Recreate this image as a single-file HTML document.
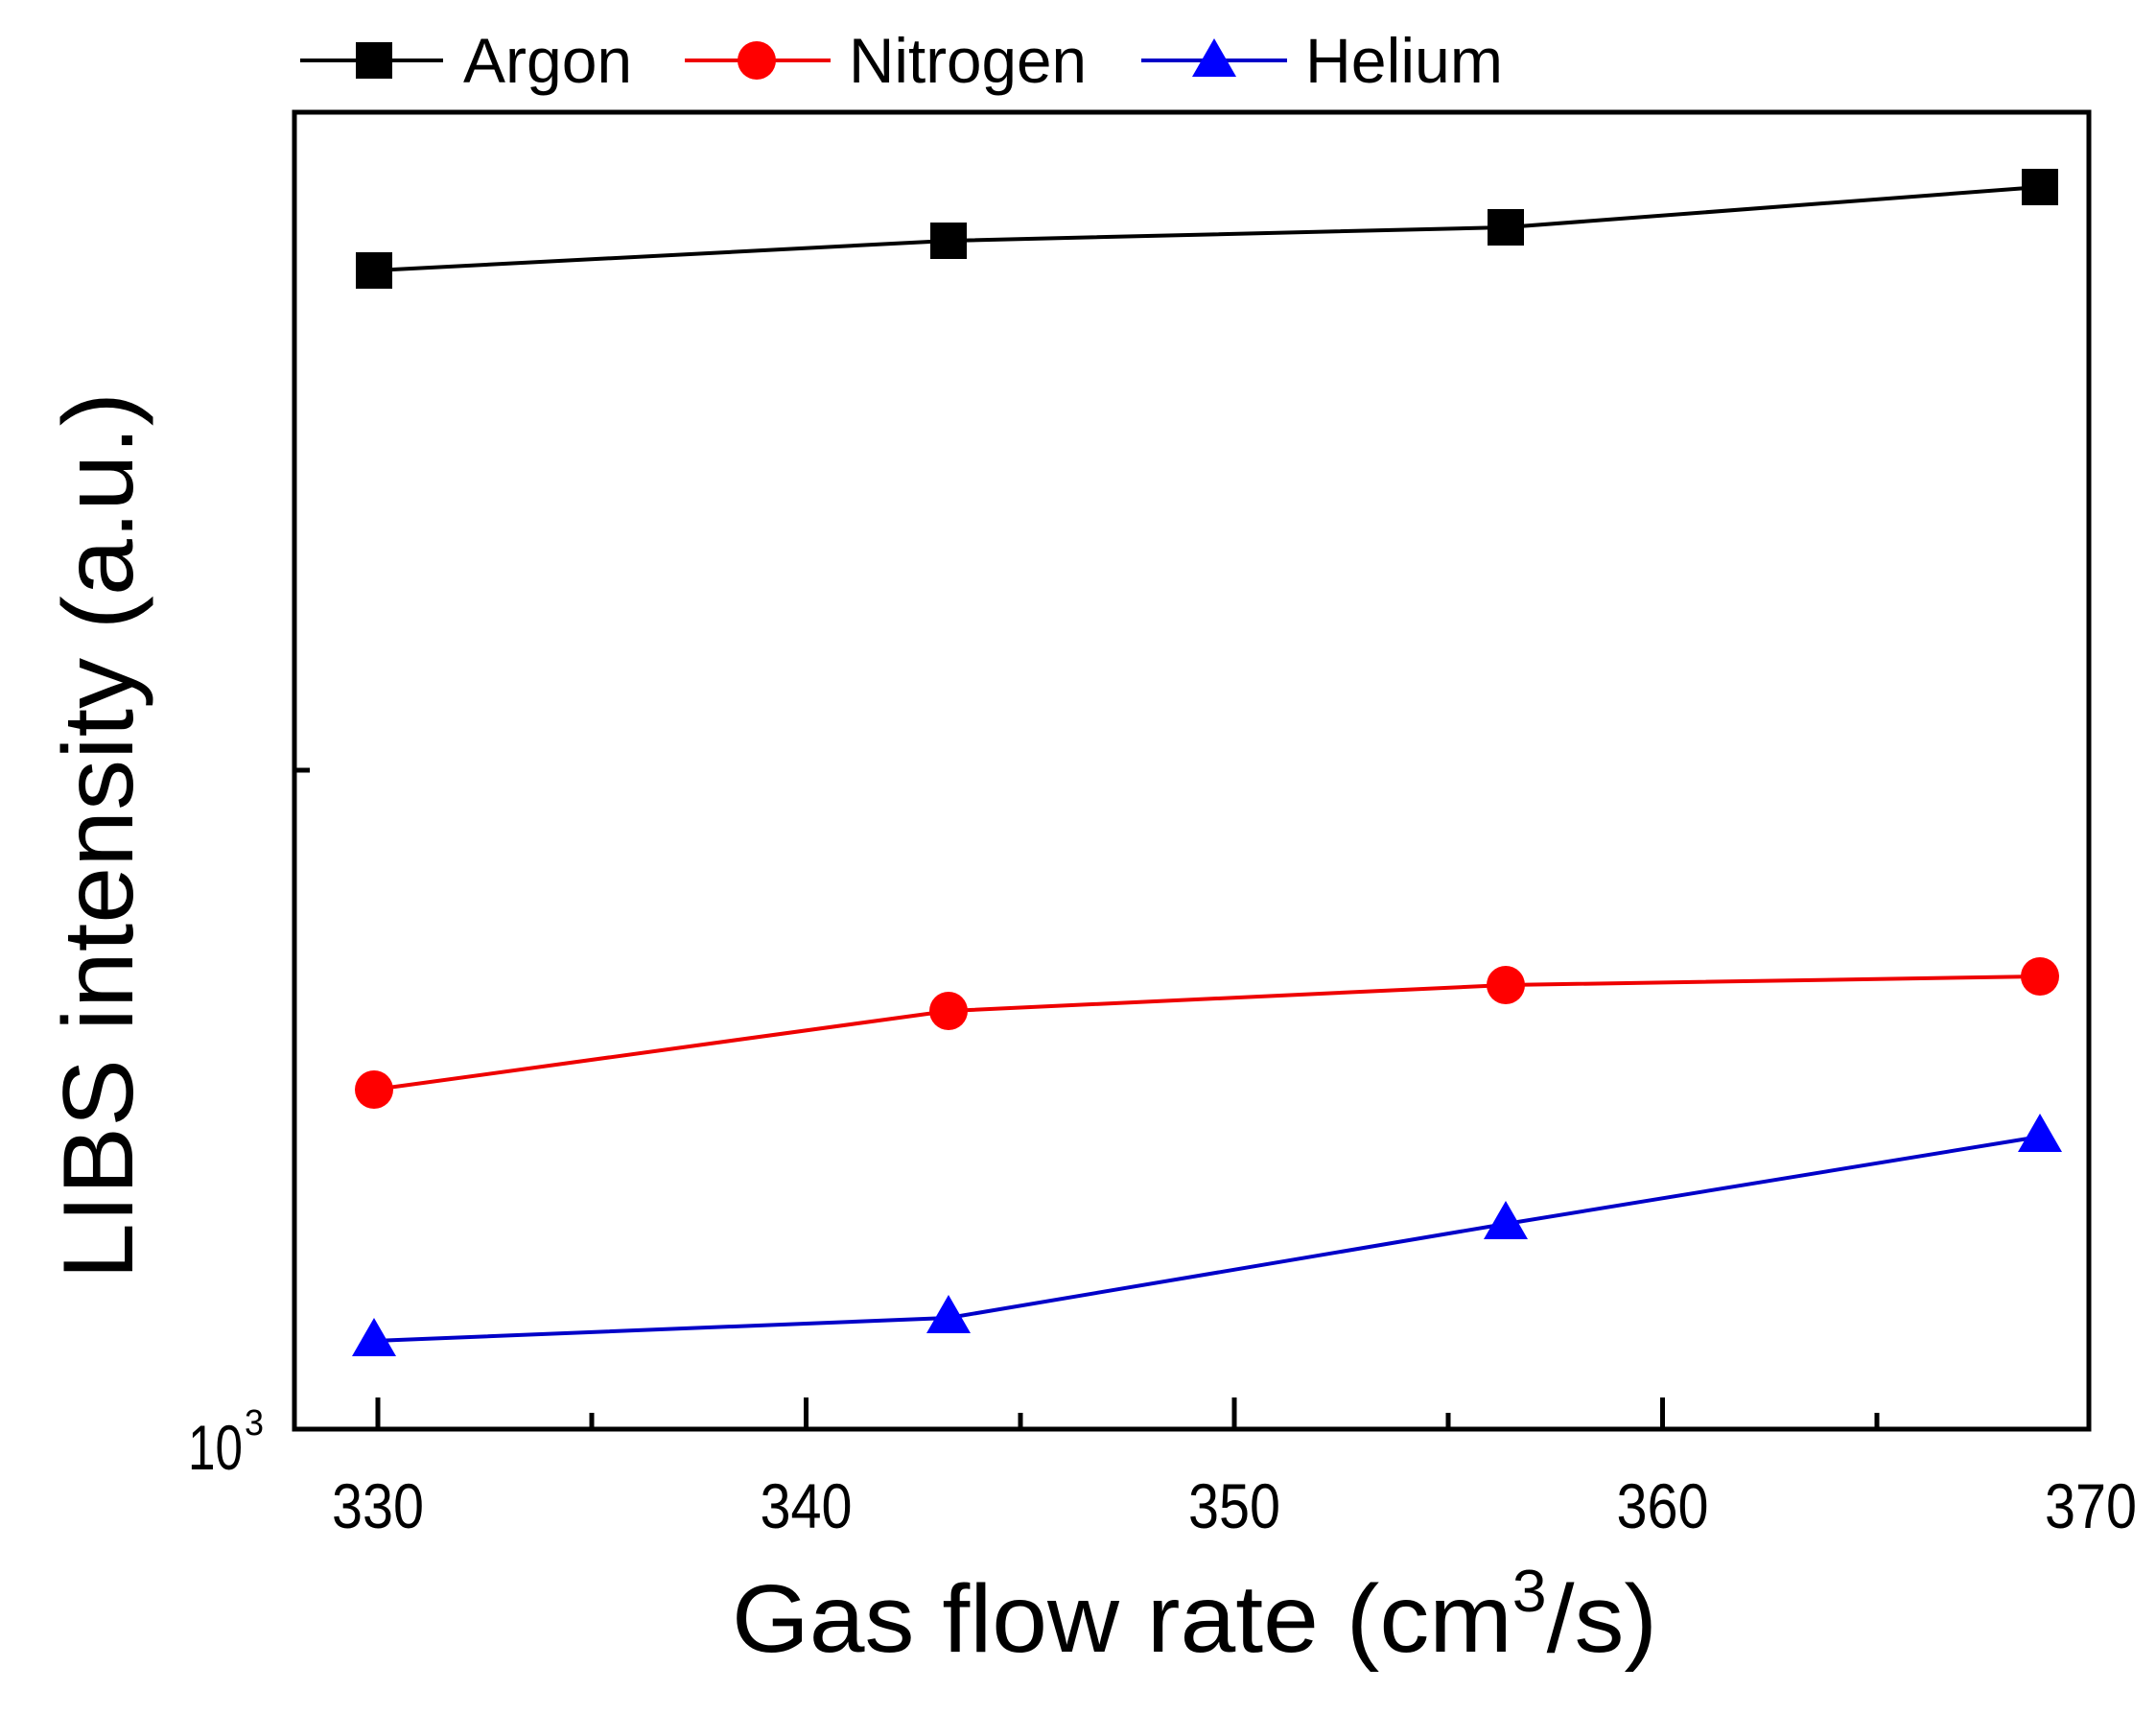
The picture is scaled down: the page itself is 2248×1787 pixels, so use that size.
<!DOCTYPE html>
<html><head><meta charset="utf-8"><style>html,body{margin:0;padding:0;background:#fff}svg{display:block}</style></head>
<body>
<svg width="2248" height="1787" viewBox="0 0 2248 1787" xmlns="http://www.w3.org/2000/svg" font-family="Liberation Sans, Arial, sans-serif">
<rect width="2248" height="1787" fill="#fff"/>
<!-- axes -->
<rect x="307" y="117" width="1871" height="1373" fill="none" stroke="#000" stroke-width="5"/>
<g stroke="#000" stroke-width="5">
<line x1="394" y1="1490" x2="394" y2="1457"/>
<line x1="840.5" y1="1490" x2="840.5" y2="1457"/>
<line x1="1287" y1="1490" x2="1287" y2="1457"/>
<line x1="1733.5" y1="1490" x2="1733.5" y2="1457"/>
<line x1="617" y1="1490" x2="617" y2="1473"/>
<line x1="1064" y1="1490" x2="1064" y2="1473"/>
<line x1="1510" y1="1490" x2="1510" y2="1473"/>
<line x1="1957" y1="1490" x2="1957" y2="1473"/>
<line x1="307" y1="803" x2="323" y2="803"/>
</g>
<g font-size="66" text-anchor="middle" fill="#000">
<text x="394" y="1593" textLength="96" lengthAdjust="spacingAndGlyphs">330</text>
<text x="840.5" y="1593" textLength="96" lengthAdjust="spacingAndGlyphs">340</text>
<text x="1287" y="1593" textLength="96" lengthAdjust="spacingAndGlyphs">350</text>
<text x="1733.5" y="1593" textLength="96" lengthAdjust="spacingAndGlyphs">360</text>
<text x="2180" y="1593" textLength="96" lengthAdjust="spacingAndGlyphs">370</text>
</g>
<text x="196" y="1532" font-size="66" textLength="57" lengthAdjust="spacingAndGlyphs">10</text>
<text x="255" y="1496" font-size="38" textLength="20" lengthAdjust="spacingAndGlyphs">3</text>
<!-- axis titles -->
<text x="763" y="1722" font-size="100" textLength="965" lengthAdjust="spacingAndGlyphs">Gas flow rate (cm<tspan dy="-42" font-size="62">3</tspan><tspan dy="42">/s)</tspan></text>
<text transform="translate(138,1334) rotate(-90)" font-size="104" textLength="925" lengthAdjust="spacingAndGlyphs">LIBS intensity (a.u.)</text>
<!-- series -->
<polyline points="390,282 989,251 1570,237 2127,195" fill="none" stroke="#000" stroke-width="4"/>
<polyline points="390,1136 989,1054 1570,1027 2127,1018" fill="none" stroke="#e00" stroke-width="4"/>
<polyline points="390,1398 989,1374 1570,1276 2127,1185" fill="none" stroke="#0000c8" stroke-width="4"/>
<g fill="#000">
<rect x="371" y="263" width="38" height="38"/><rect x="970" y="232" width="38" height="38"/><rect x="1551" y="218" width="38" height="38"/><rect x="2108" y="176" width="38" height="38"/>
</g>
<g fill="#f00">
<circle cx="390" cy="1136" r="20"/><circle cx="989" cy="1054" r="20"/><circle cx="1570" cy="1027" r="20"/><circle cx="2127" cy="1018" r="20"/>
</g>
<g fill="#00f">
<polygon points="390,1374 367,1414 413,1414"/><polygon points="989,1350 966,1390 1012,1390"/><polygon points="1570,1252 1547,1292 1593,1292"/><polygon points="2127,1161 2104,1201 2150,1201"/>
</g>
<!-- legend -->
<line x1="313" y1="63" x2="462" y2="63" stroke="#000" stroke-width="4"/>
<rect x="371" y="44" width="38" height="38" fill="#000"/>
<text x="483" y="86" font-size="66">Argon</text>
<line x1="714" y1="63" x2="866" y2="63" stroke="#e00" stroke-width="4"/>
<circle cx="789" cy="63" r="20" fill="#f00"/>
<text x="885" y="86" font-size="66" textLength="248" lengthAdjust="spacingAndGlyphs">Nitrogen</text>
<line x1="1190" y1="63" x2="1342" y2="63" stroke="#0000c8" stroke-width="4"/>
<polygon points="1266,40 1243,80 1289,80" fill="#00f"/>
<text x="1361" y="86" font-size="66" textLength="206" lengthAdjust="spacingAndGlyphs">Helium</text>
</svg>
</body></html>
